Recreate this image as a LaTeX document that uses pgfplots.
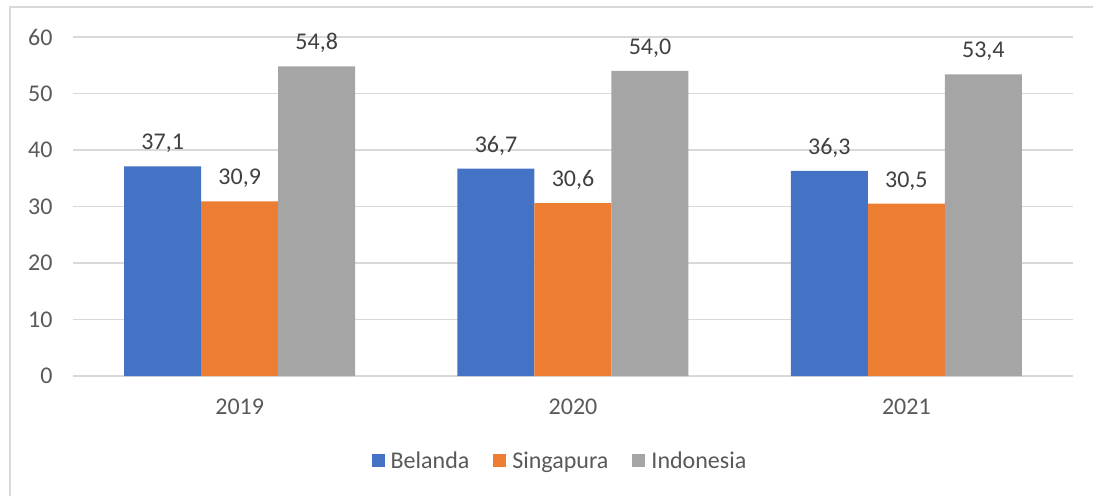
\documentclass[border=0pt]{standalone}
\usepackage{pgfplots}
\pgfplotsset{compat=1.18}
\usepackage{fontspec}
\setmainfont{Carlito}
\definecolor{cBelanda}{HTML}{4472C4}
\definecolor{cSingapura}{HTML}{ED7D31}
\definecolor{cIndonesia}{HTML}{A5A5A5}
\definecolor{cGrid}{HTML}{D9D9D9}
\definecolor{cTick}{HTML}{595959}
\definecolor{cValue}{HTML}{404040}
\newcommand{\chartfont}{\fontsize{24}{28}\selectfont}

\begin{document}
\begin{tikzpicture}
\begin{axis}[
  at={(73pt,-376pt)}, anchor=south west,
  scale only axis, width=1000pt, height=339pt,
  ybar=0pt, bar width=77pt,
  xmin=-0.5, xmax=2.5, ymin=0, ymax=60,
  xtick={0,1,2}, xticklabels={2019,2020,2021},
  ytick={0,10,...,60},
  major tick length=0pt,
  axis line style={draw=none},
  ymajorgrids=true,
  grid style={cGrid, line width=1.3pt},
  tick label style={font=\chartfont, text=cTick},
  /pgf/number format/assume math mode=true,
  yticklabel style={xshift=-17pt},
  xticklabel style={yshift=-19pt},
  nodes near coords,
  nodes near coords style={font=\chartfont, text=cValue, yshift=10pt,
    /pgf/number format/fixed, /pgf/number format/fixed zerofill,
    /pgf/number format/precision=1, /pgf/number format/use comma},
  legend style={at={(0.487,-0.25)}, anchor=center, draw=none,
    font=\chartfont, text=cTick, legend columns=-1,
    /tikz/every odd column/.append style={column sep=4pt},
    /tikz/every even column/.append style={column sep=22pt}},
  legend image code/.code={\fill (0pt,-6.5pt) rectangle (13pt,6.5pt);},
]
\addplot[fill=cBelanda, draw=none] coordinates {(0,37.1) (1,36.7) (2,36.3)};
\addlegendentry{Belanda}
\addplot[fill=cSingapura, draw=none] coordinates {(0,30.9) (1,30.6) (2,30.5)};
\addlegendentry{Singapura}
\addplot[fill=cIndonesia, draw=none] coordinates {(0,54.8) (1,54.0) (2,53.4)};
\addlegendentry{Indonesia}
\end{axis}
\draw[cGrid, line width=1.3pt] (10pt,-496pt) -- (10pt,-7pt) -- (1093pt,-7pt);
\pgfresetboundingbox
\path[use as bounding box] (0pt,0pt) rectangle (1093pt,-496pt);
\end{tikzpicture}
\end{document}
